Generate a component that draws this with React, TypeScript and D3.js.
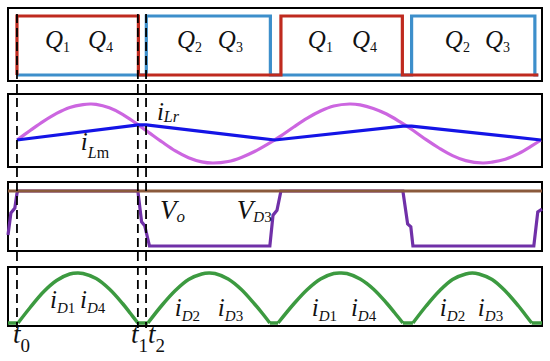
import * as d3 from "d3";

// time axis in µs, switching period 10 µs, t0 = 0
const timeDomain = [-0.34, 19.89];
const markerTimes = [0, 4.58, 4.89];
const markerNames = ["0", "1", "2"];
const markerLabelT = [-0.15, 4.32, 4.96];

// gate signals (step, 0 = off, 1 = on)
const q14Times = [0, 0, 4.6, 10, 14.6, 19.75];
const q14Levels = [0, 1, 0, 1, 0, 0];
const q23Times = [0, 4.9, 9.6, 14.95, 19.62, 19.75];
const q23Levels = [0, 1, 0, 1, 0, 0];

// resonant current iLr (normalised)
const lrT = [0, 0.5, 1, 1.5, 2, 2.5, 2.77, 3, 3.5, 4, 4.5, 5, 5.5, 6, 6.5, 7, 7.42, 8, 8.5, 9, 9.5, 10, 10.5, 11, 11.5, 12, 12.6, 13, 13.5, 14, 14.5, 15, 15.5, 16, 16.5, 17, 17.65, 18, 18.5, 19, 19.5, 19.85];
const lrV = [-0.22, 0.1, 0.41, 0.68, 0.88, 0.98, 1.0, 0.99, 0.87, 0.65, 0.35, 0.03, -0.29, -0.59, -0.82, -0.96, -1.0, -0.95, -0.81, -0.61, -0.36, -0.08, 0.23, 0.52, 0.76, 0.93, 1.0, 0.97, 0.85, 0.66, 0.4, 0.11, -0.21, -0.5, -0.75, -0.92, -1.0, -0.97, -0.87, -0.68, -0.42, -0.22];

// magnetizing current iLm
const lmT = [0, 4.6, 4.9, 9.77, 14.62, 14.95, 19.85];
const lmV = [-0.22, 0.29, 0.29, -0.22, 0.25, 0.25, -0.22];

// output voltage and diode voltage VD3
const voT = [-0.34, 19.89];
const voV = [1, 1];
const vdT = [-0.34, -0.23, -0.08, 0, 0.04, 4.58, 4.72, 4.84, 5.02, 9.58, 9.7, 9.85, 10.0, 14.62, 14.8, 14.92, 15.0, 19.58, 19.73, 19.89];
const vdV = [0.2, 0.6, 0.69, 0.96, 1, 1, 0.44, 0.37, 0, 0, 0.56, 0.65, 1, 1, 0.4, 0.35, 0, 0, 0.62, 0.67];

// rectified diode current pulses, one list per half period
const dFlatT = [-0.34, 0.04];
const d1T = [0.04, 0.5, 1, 1.5, 2, 2.3, 2.5, 3, 3.5, 4, 4.3, 4.58];
const d1V = [0, 0.31, 0.62, 0.85, 0.98, 1.0, 0.99, 0.89, 0.68, 0.39, 0.19, 0];
const d2T = [4.96, 5.5, 6, 6.5, 7, 7.27, 7.5, 8, 8.5, 9, 9.3, 9.58];
const d2V = [0, 0.36, 0.65, 0.87, 0.98, 1.0, 0.99, 0.88, 0.67, 0.38, 0.19, 0];
const d3T = [9.89, 10.5, 11, 11.5, 12, 12.25, 12.5, 13, 13.5, 14, 14.3, 14.62];
const d3V = [0, 0.39, 0.67, 0.88, 0.99, 1.0, 0.99, 0.88, 0.68, 0.4, 0.21, 0];
const d4T = [15.0, 15.5, 16, 16.5, 17, 17.25, 17.5, 18, 18.5, 19, 19.25, 19.5];
const d4V = [0, 0.34, 0.64, 0.87, 0.98, 1.0, 0.98, 0.87, 0.64, 0.34, 0.17, 0];
const dEndT = [19.5, 19.89];

// labels
const qSubs = ["1", "4", "2", "3", "1", "4", "2", "3"];
const qLabelT = [1.06, 2.69, 6.06, 7.61, 11.02, 12.69, 16.21, 17.73];
const dSubs = ["D1", "D4", "D2", "D3", "D1", "D4", "D2", "D3"];
const dLabelT = [1.25, 2.39, 5.98, 7.61, 11.17, 12.65, 16.02, 17.46];
const dLabelV = [0.3, 0.3, 0.14, 0.14, 0.14, 0.14, 0.14, 0.14];

const W = 550,
  H = 361;
const font = "'Liberation Serif'";

function zip(ts: number[], vs: number[]): [number, number][] {
  return ts.map((t, i) => [t, vs[i]]);
}

export default function App() {
  const x = d3.scaleLinear().domain(timeDomain).range([8, 542]);
  const panels = [
    { top: 8, bottom: 81 },
    { top: 94, bottom: 167 },
    { top: 182, bottom: 251 },
    { top: 267, bottom: 326 },
  ];
  const yGate = d3.scaleLinear().domain([0, 1]).range([75, 16]);
  const yCur = d3.scaleLinear().domain([-1, 1]).range([163, 104]);
  const yVol = d3.scaleLinear().domain([0, 1]).range([246, 191]);
  const yDio = d3.scaleLinear().domain([0, 1]).range([323, 273]);

  const line = (ys: d3.ScaleLinear<number, number>, curve: d3.CurveFactory) =>
    d3
      .line<[number, number]>()
      .x((d) => x(d[0]))
      .y((d) => ys(d[1]))
      .curve(curve);

  const gateLine = line(yGate, d3.curveStepAfter);
  const curLine = line(yCur, d3.curveCatmullRom);
  const lmLine = line(yCur, d3.curveLinear);
  const volLine = line(yVol, d3.curveLinear);
  const arcLine = line(yDio, d3.curveCatmullRom);
  const flatLine = line(yDio, d3.curveLinear);

  const pulses = [
    zip(d1T, d1V),
    zip(d2T, d2V),
    zip(d3T, d3V),
    zip(d4T, d4V),
  ];
  const green = "#3c9a40";
  const ink = "#111";

  const it = { fontFamily: font, fontStyle: "italic" as const };
  const up = { fontFamily: font, fontStyle: "normal" as const };

  return (
    <svg
      width={W}
      height={H}
      style={{ position: "absolute", left: 0, top: 0, background: "#fff" }}
    >
      <rect width={W} height={H} fill="#fff" />
      {panels.map((p, i) => (
        <rect
          key={i}
          x={8}
          y={p.top}
          width={534}
          height={p.bottom - p.top}
          fill="none"
          stroke="#000"
          strokeWidth={2}
        />
      ))}

      {/* gate signals */}
      <path d={gateLine(zip(q23Times, q23Levels)) || ""} fill="none" stroke="#3d8fcb" strokeWidth={3.2} />
      <path d={gateLine(zip(q14Times, q14Levels)) || ""} fill="none" stroke="#bf2a1f" strokeWidth={3.2} />

      {/* currents */}
      <path d={curLine(zip(lrT, lrV)) || ""} fill="none" stroke="#cc66e0" strokeWidth={3.2} />
      <path d={lmLine(zip(lmT, lmV)) || ""} fill="none" stroke="#1414e6" strokeWidth={3.2} />

      {/* voltages */}
      <path d={volLine(zip(vdT, vdV)) || ""} fill="none" stroke="#7030a8" strokeWidth={3.2} />
      <path d={volLine(zip(voT, voV)) || ""} fill="none" stroke="#8b5a3c" strokeWidth={3.2} />

      {/* diode currents */}
      <path d={flatLine(zip(dFlatT, [0, 0])) || ""} fill="none" stroke={green} strokeWidth={3.5} />
      {pulses.map((p, i) => (
        <path key={i} d={arcLine(p) || ""} fill="none" stroke={green} strokeWidth={3.5} />
      ))}
      {pulses.slice(0, 3).map((p, i) => (
        <path
          key={"f" + i}
          d={flatLine([p[p.length - 1], pulses[i + 1][0]]) || ""}
          fill="none"
          stroke={green}
          strokeWidth={3.5}
        />
      ))}
      <path d={flatLine(zip(dEndT, [0, 0])) || ""} fill="none" stroke={green} strokeWidth={3.5} />

      {/* time markers */}
      {markerTimes.map((t, i) => (
        <line
          key={i}
          x1={x(t)}
          x2={x(t)}
          y1={14}
          y2={328}
          stroke="#000"
          strokeWidth={1.8}
          strokeDasharray="9,5"
        />
      ))}

      {qSubs.map((s, i) => (
        <text key={"q" + i} x={x(qLabelT[i])} y={yGate(0.46)} fontSize={25} fill={ink} style={it}>
          Q
          <tspan fontSize={14} dy={4} style={up}>
            {s}
          </tspan>
        </text>
      ))}

      <text x={x(5.3)} y={120} fontSize={25} fill={ink} style={it}>
        i<tspan fontSize={16} dy={2} style={it}>Lr</tspan>
      </text>
      <text x={x(2.42)} y={150} fontSize={25} fill={ink} style={it}>
        i<tspan fontSize={16} dy={8} style={it}>L</tspan>
        <tspan fontSize={16} style={up}>m</tspan>
      </text>

      <text x={x(5.42)} y={219} fontSize={27} fill={ink} style={it}>
        V<tspan fontSize={17} dy={3} style={it}>o</tspan>
      </text>
      <text x={x(8.33)} y={219} fontSize={27} fill={ink} style={it}>
        V<tspan fontSize={15} dy={3} style={it}>D</tspan>
        <tspan fontSize={15} style={up}>3</tspan>
      </text>

      {dSubs.map((s, i) => (
        <text key={"d" + i} x={x(dLabelT[i])} y={yDio(dLabelV[i])} fontSize={25} fill={ink} style={it}>
          i<tspan fontSize={15} dy={5} style={it}>{s[0]}</tspan>
          <tspan fontSize={15} style={up}>{s[1]}</tspan>
        </text>
      ))}

      {markerNames.map((s, i) => (
        <text key={"t" + i} x={x(markerLabelT[i])} y={343} fontSize={27} fill={ink} style={it}>
          t<tspan fontSize={19} dy={9} style={up}>
            {s}
          </tspan>
        </text>
      ))}
    </svg>
  );
}
